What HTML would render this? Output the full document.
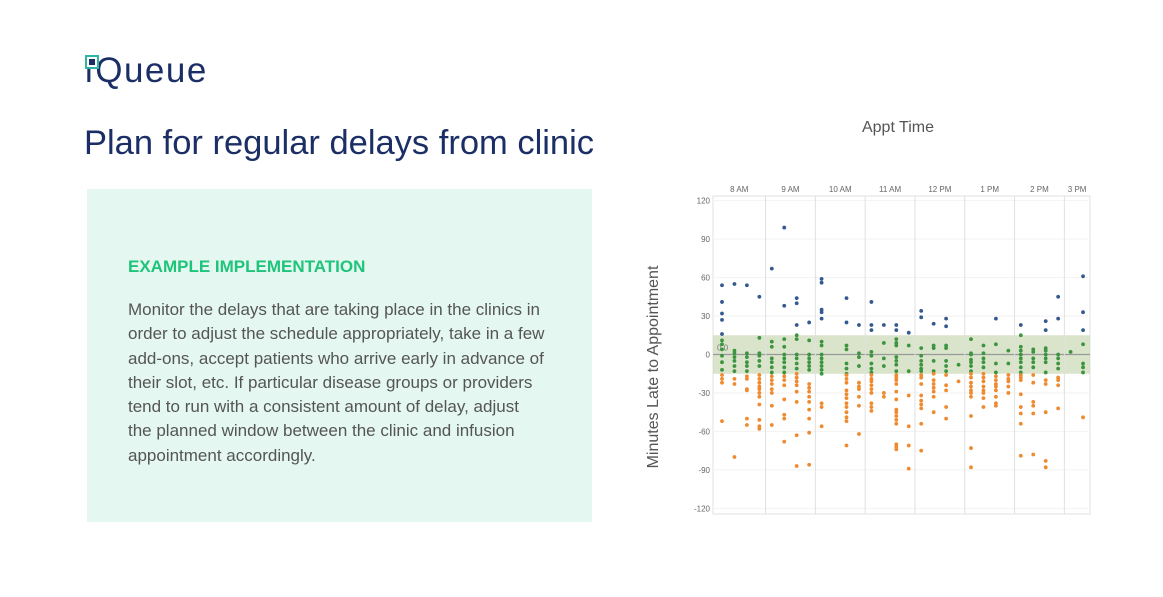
<!DOCTYPE html>
<html><head><meta charset="utf-8"><style>
body{margin:0;width:1163px;height:597px;background:#fff;font-family:"Liberation Sans",sans-serif;position:relative;overflow:hidden}
.abs{position:absolute}
</style></head><body>
<div class="abs" style="left:84px;top:51px;font-size:35px;color:#1b2f66;letter-spacing:1.5px">
<span style="position:absolute;left:1px;top:4px;width:10px;height:10px;border:2px solid #2fb5a5;background:#fff"></span><span style="position:absolute;left:5px;top:8px;width:6px;height:6px;background:#1b2f66"></span><span>ı</span>Queue</div>
<div class="abs" style="left:84px;top:124px;font-size:34.5px;color:#1b2f66;white-space:nowrap">Plan for regular delays from clinic</div>
<div class="abs" style="left:87px;top:189px;width:505px;height:333px;background:#e4f7f0"></div>
<div class="abs" style="left:128px;top:257px;font-size:17px;font-weight:bold;color:#1ec47a">EXAMPLE IMPLEMENTATION</div>
<div class="abs" style="left:128px;top:298px;font-size:17px;line-height:24.3px;color:#555;white-space:nowrap">Monitor the delays that are taking place in the clinics in<br>order to adjust the schedule appropriately, take in a few<br>add-ons, accept patients who arrive early in advance of<br>their slot, etc. If particular disease groups or providers<br>tend to run with a consistent amount of delay, adjust<br>the planned window between the clinic and infusion<br>appointment accordingly.</div>
<div class="abs" style="left:840px;top:119px;width:116px;text-align:center;font-size:16px;color:#555">Appt Time</div>
<div class="abs" style="left:654px;top:367px;transform:translate(-50%,-50%) rotate(-90deg);font-size:16px;color:#555;white-space:nowrap">Minutes Late to Appointment</div>
<svg class="abs" style="left:0;top:0" width="1163" height="597" id="chart"></svg>
<script>
const yTicks=[120,90,60,30,0,-30,-60,-90,-120];
const hourLabels=['8 AM','9 AM','10 AM','11 AM','12 PM','1 PM','2 PM','3 PM'];
const blueSlots=[0,0,0,0,0,1,2,3,4,5,5,6,6,6,7,8,8,8,8,8,10,10,11,12,12,12,13,14,14,15,16,16,17,18,18,22,24,26,26,27,27,29,29,29];
const blueVals=[54,41,32,27,16,55,54,45,67,99,38,44,40,23,25,59,56,35,33,28,44,25,23,41,23,19,23,23,19,17,34,29,24,28,22,28,23,26,19,45,28,61,33,19];
const greenSlots=[0,0,0,0,0,0,1,1,1,1,1,1,2,2,2,2,2,3,3,3,3,3,4,4,4,4,4,4,5,5,5,5,5,5,5,6,6,6,6,6,6,7,7,7,7,7,7,8,8,8,8,8,8,8,8,10,10,10,10,10,11,11,11,12,12,12,12,12,13,13,13,14,14,14,14,14,14,14,15,15,16,16,16,16,16,16,17,17,17,17,18,18,18,18,18,19,20,20,20,20,20,20,20,21,21,21,21,21,22,22,22,23,23,24,24,24,24,24,24,24,24,25,25,25,25,25,26,26,26,26,26,26,27,27,27,27,28,29,29,29,29];
const greenVals=[11,8,4,-1,-6,-12,3,1,-2,-5,-9,-13,1,-2,-6,-9,-13,13,1,-1,-5,-9,10,6,-3,-6,-10,-14,12,6,0,-3,-6,-10,-14,15,12,0,-3,-7,-11,11,0,-3,-6,-9,-12,10,7,0,-3,-6,-9,-12,-15,7,4,-7,-11,-15,1,-2,-9,2,-1,-7,-11,-14,9,-3,-9,12,9,7,-2,-5,-8,-13,7,-13,5,-1,-5,-8,-11,-13,7,5,-5,-13,7,5,-5,-9,-13,-8,12,1,0,-4,-6,-9,-13,7,1,-3,-6,-10,8,-7,-14,3,-7,15,6,3,0,-3,-6,-10,-14,4,2,-3,-6,-10,5,3,0,-3,-6,-14,0,-3,-7,-11,2,8,-7,-10,-14];
const orangeSlots=[0,0,0,0,1,1,1,2,2,2,2,2,2,3,3,3,3,3,3,3,3,3,3,3,4,4,4,4,4,4,4,5,5,5,5,5,5,5,6,6,6,6,6,6,6,6,7,7,7,7,7,7,7,7,7,8,8,8,10,10,10,10,10,10,10,10,10,10,10,10,11,11,11,11,11,11,12,12,12,12,12,12,12,12,12,13,13,14,14,14,14,14,14,14,14,14,14,14,14,14,14,15,15,15,15,16,16,16,16,16,16,16,16,16,17,17,17,17,17,17,17,18,18,18,18,18,19,20,20,20,20,20,20,20,20,20,20,21,21,21,21,21,21,21,21,22,22,22,22,22,22,22,22,23,23,23,23,23,24,24,24,24,24,24,24,24,25,25,25,25,25,25,26,26,26,26,26,27,27,27,27,29,29,29,29,29];
const orangeVals=[-16,-19,-22,-52,-19,-23,-80,-17,-19,-27,-28,-50,-55,-16,-19,-22,-25,-27,-30,-33,-39,-51,-56,-58,-17,-20,-23,-27,-30,-40,-55,-17,-20,-24,-35,-47,-50,-68,-15,-18,-21,-24,-29,-37,-63,-87,-23,-26,-29,-33,-37,-43,-50,-61,-86,-38,-41,-56,-16,-19,-22,-28,-31,-34,-38,-41,-45,-49,-52,-71,-22,-25,-27,-33,-40,-62,-16,-19,-21,-24,-27,-30,-38,-41,-44,-30,-33,-16,-18,-20,-23,-29,-35,-43,-45,-48,-51,-54,-70,-72,-74,-32,-56,-71,-89,-16,-18,-23,-32,-36,-39,-42,-54,-75,-15,-20,-23,-26,-29,-33,-45,-16,-24,-28,-41,-50,-21,-15,-18,-22,-25,-28,-30,-33,-48,-73,-88,-15,-18,-21,-25,-28,-30,-34,-41,-17,-20,-23,-25,-28,-33,-38,-40,-16,-19,-21,-25,-30,-16,-18,-20,-31,-41,-46,-54,-79,-16,-22,-37,-40,-46,-78,-20,-23,-45,-83,-88,-18,-20,-24,-42,-49];
const L=713,R=1090,T=196,B=514;
function x(s){return 722+12.45*s;}
function y(v){return 354.5-v*1.282;}
const svg=document.getElementById('chart');const NS='http://www.w3.org/2000/svg';
function mk(t,a,p){const e=document.createElementNS(NS,t);for(const k in a)e.setAttribute(k,a[k]);(p||svg).appendChild(e);return e;}
const frame=mk('rect',{x:L,y:T,width:R-L,height:B-T,fill:'none',stroke:'#e2e2e2'});


yTicks.forEach(v=>{
 const g=mk('line',{x1:L,x2:R,y1:y(v),y2:y(v),stroke:'#f2f2f2'});
 
 
 const t=mk('text',{x:L-3,y:y(v)+3,'text-anchor':'end','font-size':8,fill:'#666','font-family':'Liberation Sans'});t.textContent=v;
 
 
});
const band=mk('rect',{x:L,y:y(15),width:R-L,height:y(-15)-y(15),fill:'#c9d9b4',opacity:0.7});


const zl=mk('line',{x1:L,x2:R,y1:y(0),y2:y(0),stroke:'#999','stroke-width':1.2});


const zt=mk('text',{x:L+4,y:y(0)-4,'font-size':8,fill:'#777','font-family':'Liberation Sans'});zt.textContent='0.0';


const bounds=[-0.75,3.5,7.5,11.5,15.5,19.5,23.5,27.5,29.55];
for(let i=0;i<hourLabels.length;i++){
 if(i>0){const d=mk('line',{x1:x(bounds[i]),x2:x(bounds[i]),y1:T,y2:B,stroke:'#e0e0e0'});
 
 }
 const c=(Math.max(L,x(bounds[i]))+Math.min(R,x(bounds[i+1])))/2;
 const t=mk('text',{x:c,y:T-4,'text-anchor':'middle','font-size':8,fill:'#666','font-family':'Liberation Sans'});t.textContent=hourLabels[i];
 
 
}
function dots(sl,vals,col,name){const n=Math.min(sl.length,vals.length);for(let i=0;i<n;i++){
 const c=mk('circle',{cx:x(sl[i]),cy:y(vals[i]),r:1.9,fill:col});
 
 }}
dots(greenSlots,greenVals,'#3d9440','point-on-time');
dots(orangeSlots,orangeVals,'#ef8a2f','point-early');
dots(blueSlots,blueVals,'#33598f','point-late');
</script>
</body></html>
